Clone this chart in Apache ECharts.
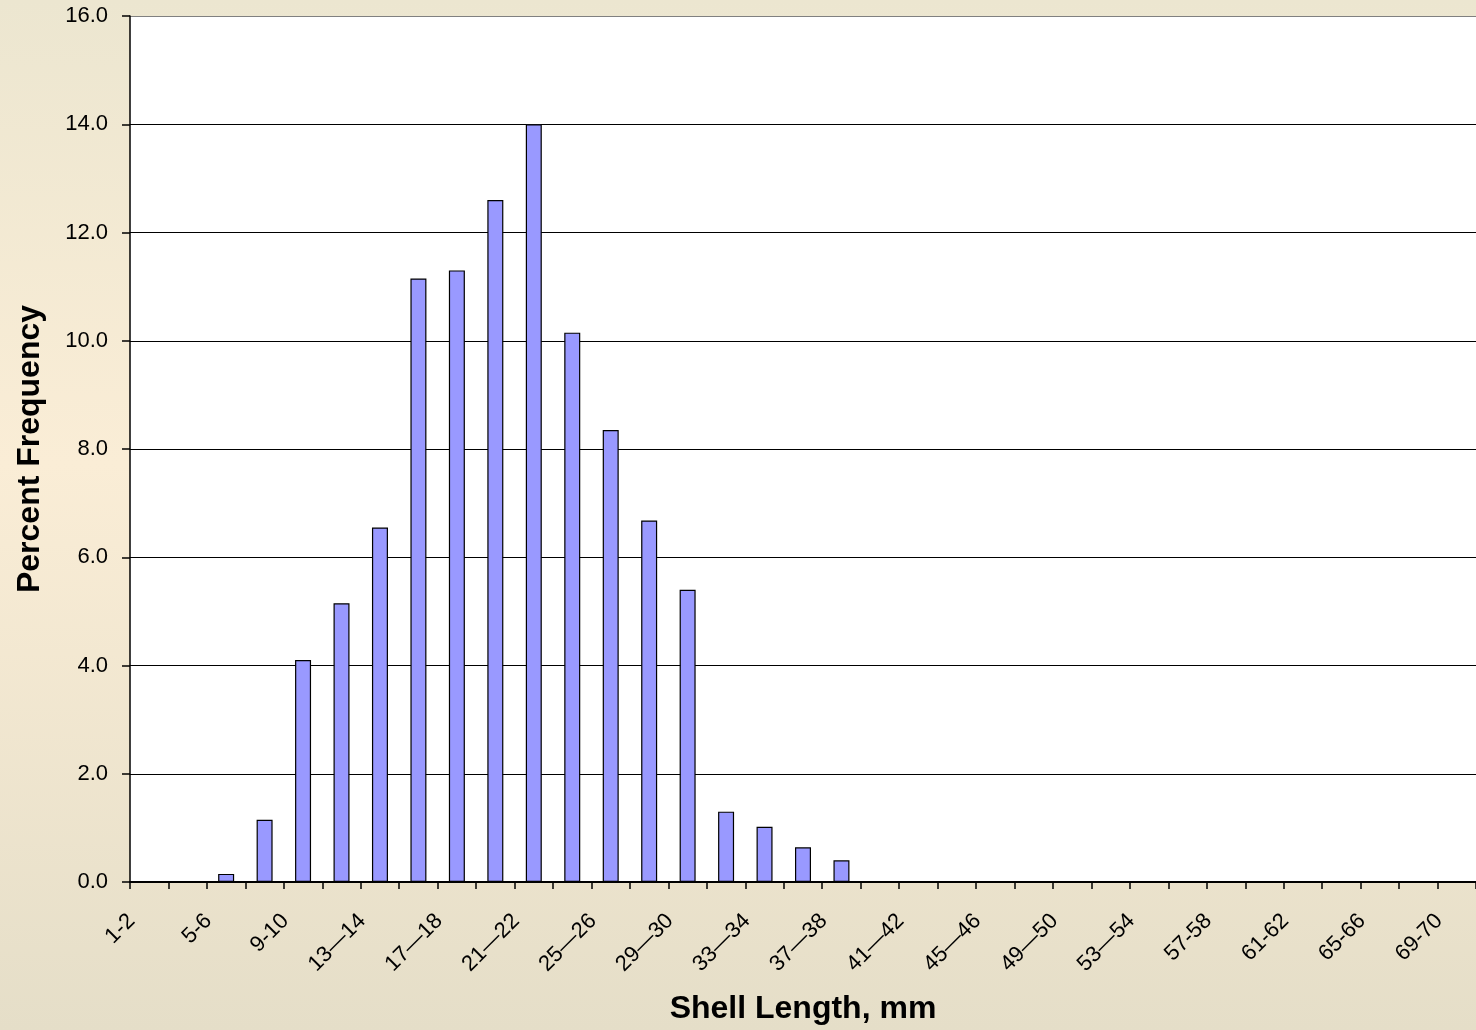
<!DOCTYPE html>
<html>
<head>
<meta charset="utf-8">
<script src="https://cdn.jsdelivr.net/npm/echarts@6/dist/echarts.min.js"></script>
<style>
html,body{margin:0;padding:0;}
#chart{width:1476px;height:1030px;}
</style>
</head>
<body>
<div id="chart"></div>
<script>
const categories = ["1-2","3-4","5-6","7-8","9-10","11-12","13—14","15—16","17—18","19—20","21—22","23—24","25—26","27—28","29—30","31—32","33—34","35—36","37—38","39—40","41—42","43—44","45—46","47—48","49—50","51—52","53—54","55—56","57-58","59-60","61-62","63-64","65-66","67-68","69-70"];
const percentFrequency = [0,0,0.15,1.15,4.1,5.15,6.55,11.15,11.3,12.6,14.0,10.15,8.35,6.68,5.4,1.3,1.02,0.64,0.4,0,0,0,0,0,0,0,0,0,0,0,0,0,0,0,0];
const yTicks = {min:0, max:16, interval:2};
const xTitle = "Shell Length, mm";
const yTitle = "Percent Frequency";

const chart = echarts.init(document.getElementById('chart'), null, {renderer:'canvas'});
const font = 'Liberation Sans, Arial, sans-serif';
chart.setOption({
  animation:false,
  backgroundColor:{type:'linear',x:0,y:0,x2:0,y2:1,colorStops:[
    {offset:0,color:'#ECE6D0'},{offset:0.45,color:'#FAEDD6'},{offset:1,color:'#E5DEC8'}]},
  grid:{left:130, top:16, width:1348, height:867, containLabel:false, show:true, backgroundColor:'#FFFFFF', borderWidth:0},
  xAxis:{
    type:'category', data:categories, boundaryGap:true, z:5,
    name:xTitle, nameLocation:'middle', nameGap:111,
    nameTextStyle:{fontFamily:font, fontWeight:'bold', fontSize:32, color:'#000', verticalAlign:'top'},
    axisLine:{lineStyle:{color:'#000', width:2}},
    axisTick:{show:true, interval:0, length:7, lineStyle:{color:'#000', width:1.5}},
    axisLabel:{interval:1, rotate:45, margin:18, padding:[0,25,0,0], fontFamily:font, fontSize:22, color:'#000'},
    splitLine:{show:false}
  },
  yAxis:{
    type:'value', min:yTicks.min, max:yTicks.max, interval:yTicks.interval,
    name:yTitle, nameLocation:'middle', nameGap:84,
    nameTextStyle:{fontFamily:font, fontWeight:'bold', fontSize:32, color:'#000'},
    axisLine:{show:true, lineStyle:{color:'#000', width:1.5}},
    axisTick:{show:true, length:8, lineStyle:{color:'#000', width:1.5}},
    axisLabel:{formatter:v=>v.toFixed(1), margin:22, fontFamily:font, fontSize:22, color:'#000'},
    splitLine:{show:true, lineStyle:{color:['#000','#000','#000','#000','#000','#000','#000','#000','#808080'], width:1.2}}
  },
  series:[{
    type:'bar', data:percentFrequency, barWidth:16, z:2,
    itemStyle:{color:'#9999FF', borderColor:'#000', borderWidth:1.2}
  }]
});
</script>
</body>
</html>
